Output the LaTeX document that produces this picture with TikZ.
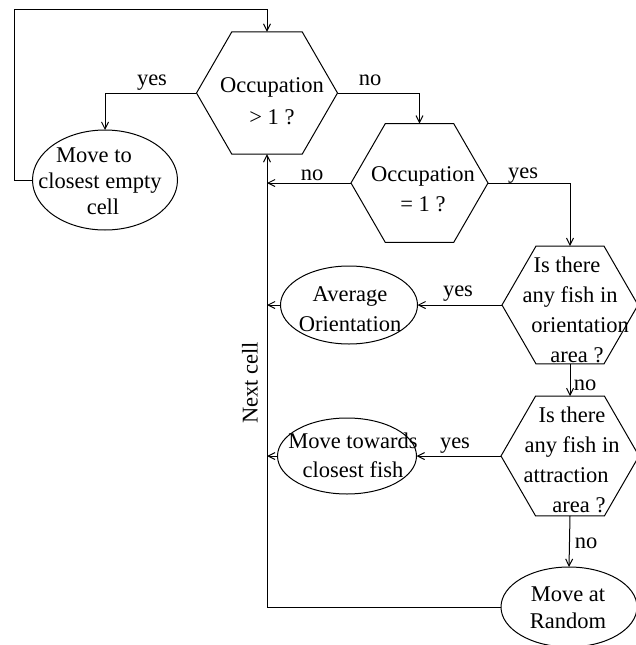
\documentclass[tikz,border=0pt]{standalone}
\usepackage{fontspec}
\setmainfont{Liberation Serif}
\usetikzlibrary{shapes.geometric,arrows.meta}
\begin{document}
\begin{tikzpicture}[x=1pt,y=-1pt,
  line width=1pt,
  hexs/.style={draw, regular polygon, regular polygon sides=6, inner sep=0pt, outer sep=0pt},
  ells/.style={draw, ellipse, inner sep=0pt, outer sep=0pt},
  txt/.style={font=\fontsize{22.5}{29}\selectfont, align=center, inner sep=0pt},
  lbl/.style={font=\fontsize{22.5}{27}\selectfont, inner sep=0pt, anchor=base},
  arr/.style={-{Straight Barb[length=7pt,width=7pt]}}]
\useasboundingbox (0,0) rectangle (636,645);
% shapes
\node[hexs, minimum size=141pt] (h1) at (267,93) {};
\node[hexs, minimum size=137pt] (h2) at (419.5,183) {};
\node[hexs, minimum size=136pt] (h3) at (570,305) {};
\node[hexs, minimum size=138pt] (h4) at (570,456) {};
\node[ells, minimum width=145pt, minimum height=100pt] (e1) at (105,180) {};
\node[ells, minimum width=137pt, minimum height=78pt] (e2) at (349,305) {};
\node[ells, minimum width=139pt, minimum height=76pt] (e3) at (347,456) {};
\node[ells, minimum width=136pt, minimum height=80pt] (e4) at (569,607) {};
% texts
\node[txt] (t1) at (272,101) {Occupation\\[3pt]> 1 ?};
\node[txt] (t2) at (423,189) {Occupation\\[1pt]= 1 ?};
\node[txt] (t3) at (570,310) {\hspace*{-6pt}Is there\\[1pt]any fish in\\[1pt]\hspace*{20pt}orientation\\[1pt]\hspace*{14pt}area ?};
\node[txt] (t4) at (572,460) {Is there\\[1pt]any fish in\\[1pt]\hspace*{-12pt}attraction\\[1pt]\hspace*{14pt}area ?};
\node[txt] (t5) at (100,181.5) {\hspace*{-12pt}Move to\\[-3pt]closest empty\\[-3pt]\hspace*{6pt}cell};
\node[txt] (t6) at (350,309.5) {Average\\[1pt]Orientation};
\node[txt] (t7) at (353,455) {Move towards\\closest fish};
\node[txt] (t8) at (568,608) {Move at\\[-2pt]Random};
% connectors
\coordinate (tl) at (14,9);
\draw[arr] (e1.west) -| (tl) -| (h1.north);
\draw[arr] (h1.west) -| (e1.north);
\draw[arr] (h1.east) -| (h2.north);
\draw[arr] (h2.east) -| (h3.north);
\draw[arr] (h3.south) -- (h4.north);
\draw[arr] (h4.south) -- (e4.north);
\draw[arr] (h3.west) -- (e2.east);
\draw[arr] (h4.west) -- (e3.east);
\draw[arr] (e4.west) -| (h1.south);
\draw[arr] (h2.west) -- (h2.west -| h1.south);
\draw[arr] (e2.west) -- (e2.west -| h1.south);
\draw[arr] (e3.west) -- (e3.west -| h1.south);
% labels
\node[lbl] (l1) at (152,85) {yes};
\node[lbl] (l2) at (370,85) {no};
\node[lbl] (l3) at (312,180) {no};
\node[lbl] (l4) at (523,178) {yes};
\node[lbl] (l5) at (458,296) {yes};
\node[lbl] (l6) at (585,390) {no};
\node[lbl] (l7) at (455,448) {yes};
\node[lbl] (l8) at (586,548) {no};
\node[txt, rotate=90] (nc) at (250,383) {Next cell};
\end{tikzpicture}
\end{document}
